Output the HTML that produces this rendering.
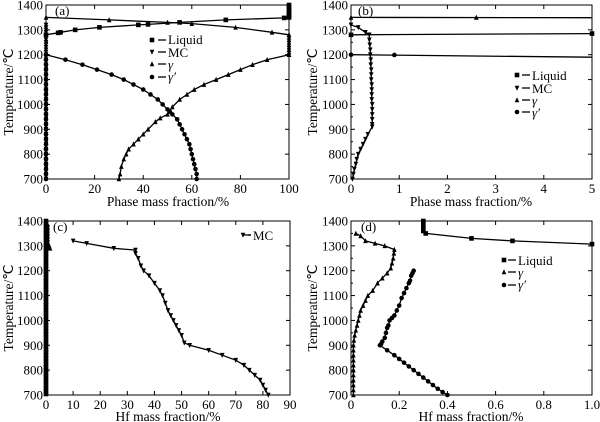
<!DOCTYPE html>
<html><head><meta charset="utf-8"><style>
html,body{margin:0;padding:0;background:#fff;}
svg{display:block;font-family:"Liberation Serif",serif;}
</style></head><body>
<svg id="s" width="600" height="422" viewBox="0 0 600 422" xmlns="http://www.w3.org/2000/svg">
<g font-size="13" fill="#000">
<text x="55" y="15">(a)</text>
<text x="358" y="15">(b)</text>
<text x="53" y="231">(c)</text>
<text x="361" y="231">(d)</text>
<text x="168" y="206" text-anchor="middle" font-size="13.5">Phase mass fraction/%</text>
<text x="471" y="206" text-anchor="middle" font-size="13.5">Phase mass fraction/%</text>
<text x="168" y="421" text-anchor="middle" font-size="13.5">Hf mass fraction/%</text>
<text x="471" y="421" text-anchor="middle" font-size="13.5">Hf mass fraction/%</text>
<text transform="translate(13,92) rotate(-90)" text-anchor="middle" font-size="13.5">Temperature/℃</text>
<text transform="translate(317,92) rotate(-90)" text-anchor="middle" font-size="13.5">Temperature/℃</text>
<text transform="translate(13,308) rotate(-90)" text-anchor="middle" font-size="13.5">Temperature/℃</text>
<text transform="translate(317,308) rotate(-90)" text-anchor="middle" font-size="13.5">Temperature/℃</text>
<!-- legends -->
<text x="168" y="44">Liquid</text><text x="168" y="57">MC</text><text x="168" y="69" font-style="italic">γ</text><text x="168" y="81" font-style="italic">γ′</text>
<text x="532" y="80">Liquid</text><text x="532" y="93">MC</text><text x="532" y="105" font-style="italic">γ</text><text x="532" y="117" font-style="italic">γ′</text>
<text x="253" y="240">MC</text>
<text x="518" y="265">Liquid</text><text x="518" y="277" font-style="italic">γ</text><text x="518" y="289" font-style="italic">γ′</text>
</g>
<g stroke="#000" stroke-width="1.3">
<line x1="158" x2="166" y1="40" y2="40"/><line x1="158" x2="166" y1="52" y2="52"/><line x1="158" x2="166" y1="64" y2="64"/><line x1="158" x2="166" y1="77" y2="77"/>
<line x1="522" x2="530" y1="75" y2="75"/><line x1="522" x2="530" y1="88" y2="88"/><line x1="522" x2="530" y1="100" y2="100"/><line x1="522" x2="530" y1="112" y2="112"/>
<line x1="248" x2="251" y1="235" y2="235"/><line x1="243" x2="251" y1="235" y2="235"/>
<line x1="508" x2="516" y1="260" y2="260"/><line x1="508" x2="516" y1="272" y2="272"/><line x1="508" x2="516" y1="285" y2="285"/>
</g>
<g id="ticks" font-size="13"></g>
<g id="data"></g>
</svg>
<script>
var NS="http://www.w3.org/2000/svg",T=document.getElementById('ticks'),D=document.getElementById('data');
function el(p,n,a,t){var e=document.createElementNS(NS,n);for(var k in a)e.setAttribute(k,a[k]);if(t!==undefined)e.textContent=t;p.appendChild(e);return e;}
var P={a:{l:46,r:289,t:5,b:179,x0:0,x1:100,xt:[0,20,40,60,80,100],xl:function(v){return v}},
b:{l:351,r:592,t:5,b:179,x0:0,x1:5,xt:[0,1,2,3,4,5],xl:function(v){return v}},
c:{l:46,r:290,t:221,b:395,x0:0,x1:90,xt:[0,10,20,30,40,50,60,70,80,90],xl:function(v){return v}},
d:{l:351,r:592,t:221,b:395,x0:0,x1:1,xt:[0,0.2,0.4,0.6,0.8,1],xl:function(v){return v==0?'0':v==1?'1.0':v.toFixed(1)}}};
function X(p,v){return p.l+(v-p.x0)/(p.x1-p.x0)*(p.r-p.l)}
function Y(p,v){return p.b-(v-700)/700*(p.b-p.t)}
for(var k in P){var p=P[k];
el(D,'rect',{x:p.l,y:p.t,width:p.r-p.l,height:p.b-p.t,fill:'none',stroke:'#000','stroke-width':1});
for(var y=700;y<=1400;y+=100){var yy=Y(p,y);el(T,'line',{x1:p.l,x2:p.l+4,y1:yy,y2:yy,stroke:'#000'});el(T,'line',{x1:p.r,x2:p.r-4,y1:yy,y2:yy,stroke:'#000'});
el(T,'text',{x:p.l-3,y:yy+4.5,'text-anchor':'end'},y);}
for(var y=750;y<1400;y+=100){var yy=Y(p,y);el(T,'line',{x1:p.l,x2:p.l+2,y1:yy,y2:yy,stroke:'#000'});}
p.xt.forEach(function(v){var xx=X(p,v);el(T,'line',{x1:xx,x2:xx,y1:p.b,y2:p.b-4,stroke:'#000'});el(T,'line',{x1:xx,x2:xx,y1:p.t,y2:p.t+4,stroke:'#000'});
el(T,'text',{x:xx,y:p.b+14,'text-anchor':'middle'},p.xl(v));});}
function mk(x,y,m){var s=2.3;
if(m=='s')el(D,'rect',{x:x-s,y:y-s,width:2*s,height:2*s,fill:'#000'});
else if(m=='c')el(D,'circle',{cx:x,cy:y,r:s,fill:'#000'});
else if(m=='u')el(D,'path',{d:'M'+x+' '+(y-s-0.5)+'L'+(x+s)+' '+(y+s)+'L'+(x-s)+' '+(y+s)+'Z',fill:'#000'});
else el(D,'path',{d:'M'+x+' '+(y+s+0.5)+'L'+(x+s)+' '+(y-s)+'L'+(x-s)+' '+(y-s)+'Z',fill:'#000'});}
function ser(k,pts,m,nomark){var p=P[k];var d='';pts.forEach(function(q,i){d+=(i?'L':'M')+X(p,q[0]).toFixed(1)+' '+Y(p,q[1]).toFixed(1);});
el(D,'path',{d:d,fill:'none',stroke:'#000','stroke-width':1.3});
if(!nomark)pts.forEach(function(q){mk(X(p,q[0]),Y(p,q[1]),m);});}
function vstack(k,x,from,to,step,m){var a=[];for(var t=from;t>=to;t-=step)a.push([x,t]);ser(k,a,m);}
// (a)
vstack('a',0,1320,700,10,'d');
vstack('a',100,1400,1350,7,'s');
ser('a',[[100,1350],[98,1348],[74,1340],[55,1330],[42,1322],[38,1320],[22,1310],[12,1300],[6,1290],[5,1288],[0,1280]],'s');
ser('a',[[0,1350],[26,1340],[50,1330],[60,1325],[78,1310],[93,1290],[100,1280]],'u');
vstack('a',100,1280,1200,10,'u');
ser('a',[[100,1200],[91,1180],[85,1160],[80,1140],[75,1120],[70,1100],[65,1080],[61,1060],[58,1040],[55,1020],[52,990],[50,960],[47,945],[45,930],[42,900],[40,880],[38,860],[36,840],[34,820],[33,800],[32,780],[31,750],[30.5,720],[30,700]],'u');
ser('a',[[0,1200],[8,1180],[15,1160],[21,1140],[27,1120],[32,1100],[36,1080],[40,1060],[43,1040],[46,1020],[48,1000],[50,980],[51,970],[52,960],[54,940],[55,920],[56,900],[57,880],[58,860],[59,840],[59.5,820],[60,800],[60.5,780],[61,760],[61.5,740],[62,720],[62,700]],'c');
vstack('a',0,1200,700,20,'c');
mk(152,40,'s');mk(152,52,'d');mk(152,64,'u');mk(152,77,'c');
// (b)
ser('b',[[0,1350],[5,1349]],'u',1);mk(X(P.b,0),Y(P.b,1350),'u');mk(X(P.b,2.6),Y(P.b,1350),'u');
ser('b',[[0,1280],[5,1285]],'s',1);mk(X(P.b,0),Y(P.b,1280),'s');mk(X(P.b,5),Y(P.b,1285),'s');
ser('b',[[0,1200],[5,1190]],'c',1);mk(X(P.b,0),Y(P.b,1200),'c');mk(X(P.b,0.9),Y(P.b,1199),'c');
ser('b',[[0,1320],[0.15,1310],[0.3,1290],[0.38,1280],[0.38,1260],[0.39,1240],[0.4,1220],[0.4,1200],[0.41,1180],[0.41,1160],[0.42,1140],[0.42,1120],[0.42,1100],[0.43,1080],[0.43,1060],[0.43,1040],[0.43,1020],[0.44,1000],[0.44,980],[0.44,960],[0.44,940],[0.44,920],[0.44,910],[0.35,880],[0.3,860],[0.25,840],[0.2,820],[0.15,800],[0.12,780],[0.1,760],[0.07,740],[0.05,720],[0.03,700]],'d');
mk(517,75,'s');mk(517,88,'d');mk(517,100,'u');mk(517,112,'c');
// (c)
vstack('c',0,1400,700,12,'s');vstack('c',0.5,1380,1290,12,'c');mk(X(P.c,1.5),Y(P.c,1290),'u');mk(X(P.c,1.2),Y(P.c,1300),'u');
ser('c',[[10,1320],[15,1310],[25,1290],[33,1283],[33,1270],[34,1250],[35,1220],[36,1200],[38,1180],[40,1150],[42,1120],[43,1100],[44,1070],[45,1040],[46,1020],[47,1000],[48,980],[49,960],[50,940],[51,910],[53,900],[60,880],[65,860],[70,840],[73,820],[75,800],[77,780],[79,760],[80,740],[81,720],[82,700]],'d');
mk(243,235,'d');
// (d)
ser('d',[[0.3,1400],[0.3,1390],[0.3,1380],[0.3,1370],[0.3,1360],[0.31,1350],[0.5,1330],[0.67,1320],[1.0,1307]],'s');
ser('d',[[0.02,1350],[0.04,1340],[0.06,1320],[0.1,1310],[0.14,1300],[0.18,1285],[0.178,1270],[0.175,1250],[0.17,1230],[0.165,1210],[0.15,1190],[0.13,1170],[0.11,1150],[0.09,1120],[0.07,1100],[0.06,1080],[0.05,1060],[0.04,1040],[0.035,1020],[0.03,1000],[0.025,980],[0.02,960],[0.015,940],[0.012,920],[0.01,900],[0.01,880],[0.01,860],[0.01,840],[0.01,820],[0.01,800],[0.01,780],[0.01,760],[0.01,740],[0.01,720],[0.01,700]],'u');
ser('d',[[0.26,1200],[0.255,1190],[0.25,1180],[0.245,1160],[0.24,1150],[0.23,1130],[0.22,1110],[0.21,1090],[0.2,1060],[0.19,1040],[0.18,1020],[0.17,1010],[0.16,1000],[0.155,980],[0.15,970],[0.145,950],[0.14,930],[0.13,915],[0.125,905],[0.12,900],[0.15,880],[0.18,860],[0.2,845],[0.22,830],[0.24,815],[0.26,800],[0.28,785],[0.3,770],[0.32,755],[0.34,740],[0.36,725],[0.38,712],[0.4,700]],'c');
mk(504,260,'s');mk(504,272,'u');mk(504,285,'c');
</script>
</body></html>
